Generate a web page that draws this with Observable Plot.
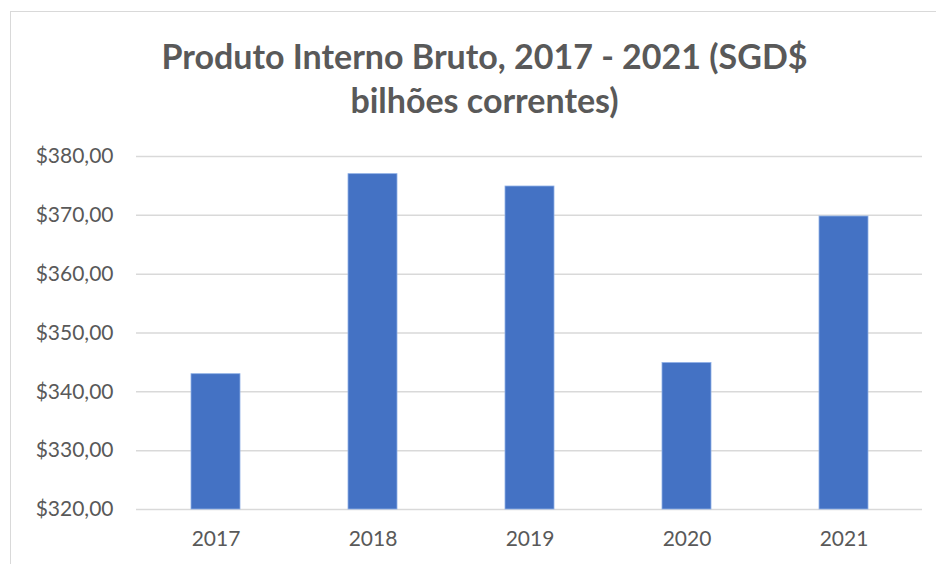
<!DOCTYPE html>
<html>
<head>
<meta charset="utf-8">
<script src="https://cdn.jsdelivr.net/npm/d3@7"></script>
<script src="https://cdn.jsdelivr.net/npm/@observablehq/plot@0.6"></script>
<style>
  html, body { margin: 0; padding: 0; background: #fff; }
  #wrap { position: relative; width: 936px; height: 564px; overflow: hidden; background: #fff; }
  #frame { position: absolute; left: 10px; top: 11px; width: 960px; height: 600px; border: 1px solid #d9d9d9; box-sizing: border-box; }
  #title { position: absolute; left: 10px; width: 949px; top: 34px; text-align: center;
           font-family: Lato, sans-serif; font-weight: bold; font-size: 34px; line-height: 44px; color: #595959; }
  #chart { position: absolute; left: 0; top: 130px; }
</style>
</head>
<body>
<div id="wrap">
  <div id="frame"></div>
  <div id="title">Produto Interno Bruto, 2017 - 2021 (SGD$<br>bilhões correntes)</div>
  <div id="chart"></div>
</div>
<script>
const years = ["2017", "2018", "2019", "2020", "2021"];
const values = [343.0, 377.0, 374.9, 344.9, 369.8];
const yTicks = [320, 330, 340, 350, 360, 370, 380];

const data = years.map((y, i) => ({year: y, value: values[i]}));
const fmt = d => "$" + d.toFixed(2).replace(".", ",");

const chart = Plot.plot({
  width: 936,
  height: 434,
  marginLeft: 136,
  marginRight: 14,
  marginTop: 26,
  marginBottom: 55,
  style: {fontFamily: "Lato, sans-serif", fontSize: "21px", color: "#595959", background: "transparent"},
  x: {domain: years, paddingInner: 0.69, paddingOuter: 0.345, label: null},
  y: {domain: [320, 380], ticks: yTicks, label: null, tickFormat: fmt},
  marks: [
    Plot.gridY(yTicks, {stroke: "#d9d9d9", strokeOpacity: 1, strokeWidth: 1.5}),
    Plot.barY(data, {x: "year", y1: 320, y2: "value", fill: "#4472c4", stroke: "#8fb0e6", strokeWidth: 0.8}),
    Plot.axisY({ticks: yTicks, tickFormat: fmt, tickSize: 0, tickPadding: 23, fill: "#595959", fontSize: 21, label: null}),
    Plot.axisX({tickSize: 0, tickPadding: 22, fill: "#595959", fontSize: 21, label: null})
  ]
});
document.getElementById("chart").appendChild(chart);
</script>
</body>
</html>
